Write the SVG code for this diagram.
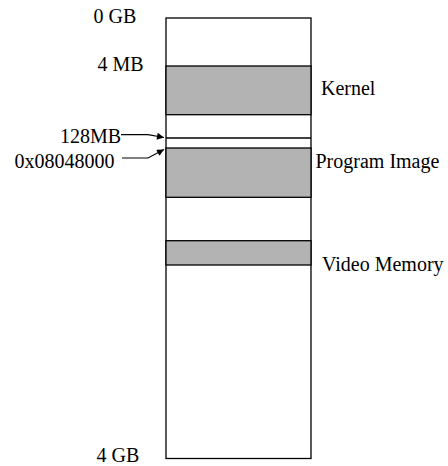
<svg xmlns="http://www.w3.org/2000/svg" width="448" height="466" viewBox="0 0 448 466">
<style>
.t{font-family:'Liberation Serif','Times New Roman',Times,serif;font-size:20px;fill:#000}
.seg{stroke:#000;stroke-width:1.3}
.fill{fill:#b3b3b3}
.blank{fill:#fff}
.conn{stroke:#000;stroke-width:1.2;fill:none}
</style>
<defs>
<marker id="ah" viewBox="0 0 10 10" refX="10" refY="5" markerWidth="16" markerHeight="7" markerUnits="userSpaceOnUse" orient="auto">
<path d="M0,0 L10,5 L0,10 Z" fill="#000"/>
</marker>
</defs>
<g id="memory">
<rect class="seg blank" x="166" y="18" width="145" height="440.5"/>
</g>
<g id="kernel">
<rect class="seg fill" x="166" y="66" width="145" height="48.7"/>
<text class="t" x="321" y="95">Kernel</text>
</g>
<g id="line128">
<line class="seg" x1="166" y1="138" x2="311" y2="138"/>
</g>
<g id="program">
<rect class="seg fill" x="166" y="148" width="145" height="49.3"/>
<text class="t" x="315.5" y="168">Program Image</text>
</g>
<g id="video">
<rect class="seg fill" x="166" y="240.7" width="145" height="24.3"/>
<text class="t" x="322" y="270.5">Video Memory</text>
</g>
<g id="labels">
<text class="t" x="93.5" y="22.7">0 GB</text>
<text class="t" x="97.5" y="70.7">4 MB</text>
<text class="t" x="60" y="143.3">128MB</text>
<text class="t" x="14.5" y="168">0x08048000</text>
<text class="t" x="96.5" y="462">4 GB</text>
</g>
<g id="connectors">
<path class="conn" d="M121,134.7 L148,134.7 L164,137.5" marker-end="url(#ah)"/>
<path class="conn" d="M122,158 L148,158 L164,149.5" marker-end="url(#ah)"/>
</g>
</svg>
